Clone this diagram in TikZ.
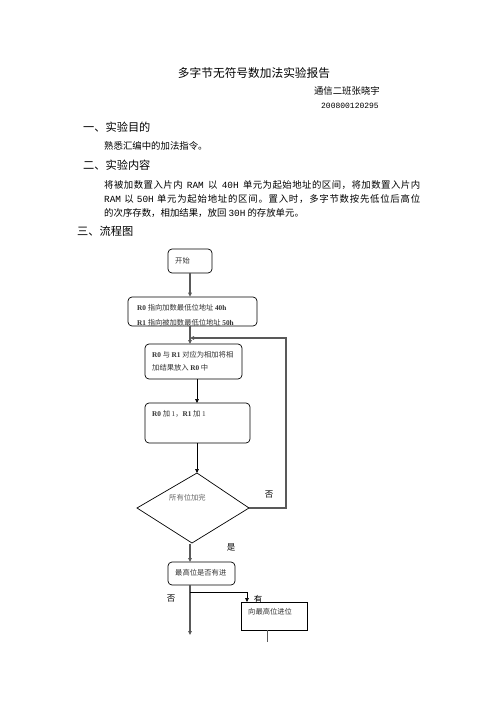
\documentclass[tikz,border=0pt]{standalone}
\usepackage{fontspec}
\setmainfont{Noto Sans CJK SC}
\newfontfamily\lat{Liberation Serif}
\newfontfamily\mono{Liberation Mono}
\newfontfamily\cjkwide[LetterSpace=5]{Noto Sans CJK SC}
\newfontfamily\cjkwider[LetterSpace=8]{Noto Sans CJK SC}
\usetikzlibrary{arrows.meta}
\begin{document}
\begin{tikzpicture}[x=1pt,y=-1pt,
  txt/.style={inner sep=0pt, anchor=west},
  head/.style={txt, font=\fontsize{11.2}{12}\selectfont},
  body/.style={txt, font=\fontsize{9.4}{11}\selectfont},
  ftxt/.style={txt, font=\fontsize{7.3}{9}\selectfont, text=black!80},
  rbox/.style={draw=black, line width=0.7pt, rounded corners=4pt, inner sep=0pt},
  sbox/.style={draw=black, line width=0.7pt, inner sep=0pt},
  tip/.style={-{Triangle[length=4pt,width=3.6pt]}},
  gline/.style={draw=black!65, line width=1.2pt},
  bline/.style={draw=black, line width=0.6pt}
]
\useasboundingbox (0,0) rectangle (496,702);
\fill[white] (0,0) rectangle (496,702);

% header texts
\node[inner sep=0pt, font=\fontsize{11.7}{13}\selectfont] (title) at (254,73) {多字节无符号数加法实验报告};
\node[inner sep=0pt, anchor=east, font=\fontsize{9.4}{11}\selectfont] (author) at (380,91) {通信二班张晓宇};
\node[inner sep=0pt, anchor=east, font=\mono\fontsize{8}{10}\selectfont] (sid) at (379,106) {200800120295};
\node[head] (h1) at (83,127) {一、实验目的};
\node[body] (b1) at (104,146) {熟悉汇编中的加法指令。};
\node[head] (h2) at (83,165) {二、实验内容};
\node[body, font=\cjkwide\fontsize{9.4}{11}\selectfont] (p1) at (104,185) {\makebox[316pt][s]{将被加数置入片内 {\mono RAM} 以 {\mono 40H} 单元为起始地址的区间，将加数置入片内}};
\node[body, font=\cjkwider\fontsize{9.4}{11}\selectfont] (p2) at (104,199) {\makebox[316pt][s]{{\mono RAM} 以 {\mono 50H} 单元为起始地址的区间。置入时，多字节数按先低位后高位}};
\node[body] (p3) at (104,213) {的次序存数，相加结果，放回 {\mono 30H} 的存放单元。};
\node[head] (h3) at (77,231) {三、流程图};

% flowchart boxes
\node[rbox, minimum width=44pt, minimum height=24pt] (start) at (190,261) {};
\node[ftxt] at (175,261) {开始};

\node[rbox, minimum width=129pt, minimum height=29pt] (b2) at (192.5,311.5) {};
\node[ftxt] at (137,308) {{\lat\bfseries R0} 指向加数最低位地址 {\lat\bfseries 40h}};
\begin{scope}
\clip (128,297) rectangle (257,325.5);
\node[ftxt] at (137,323) {{\lat\bfseries R1} 指向被加数最低位地址 {\lat\bfseries 50h}};
\end{scope}

\node[rbox, minimum width=97pt, minimum height=35pt] (b3) at (193.5,361.5) {};
\node[ftxt] at (152,355) {{\lat\bfseries R0} 与 {\lat\bfseries R1} 对应为相加将相};
\node[ftxt] at (152,368) {加结果放入 {\lat\bfseries R0} 中};

\node[rbox, minimum width=105pt, minimum height=40pt] (b4) at (197.5,423) {};
\node[ftxt] at (152,414) {{\lat\bfseries R0} 加 {\lat 1}，{\lat\bfseries R1} 加 {\lat 1}};

% diamond
\coordinate (dT) at (197,473);
\coordinate (dR) at (249,508);
\coordinate (dB) at (192,543);
\coordinate (dL) at (137,508);
\draw[line width=0.7pt] (dT) -- (dR) -- (dB) -- (dL) -- cycle;
\node[ftxt, text=black!60] (dtxt) at (169,498) {所有位加完};

\node[rbox, minimum width=67pt, minimum height=23pt] (b5) at (201.5,573.5) {};
\node[ftxt] at (175,573) {最高位是否有进};

\node[sbox, minimum width=66pt, minimum height=28pt] (b6) at (274,616) {};
\node[ftxt] at (248,612) {向最高位进位};

% labels
\node[inner sep=0pt, font=\fontsize{8.5}{10}\selectfont] (no1) at (269,495) {否};
\node[inner sep=0pt, font=\fontsize{8.5}{10}\selectfont] (yes1) at (231,547) {是};
\node[inner sep=0pt, font=\fontsize{8.5}{10}\selectfont] (no2) at (171,599) {否};
\node[inner sep=0pt, font=\fontsize{8.5}{10}\selectfont] (has) at (258,599) {有};

% connectors
\coordinate (loopR) at (286,338);
\coordinate (loopE) at (190,338);
\coordinate (br) at (190,592);
\coordinate (brR) at (247,592);
\coordinate (endA) at (190,635);
\coordinate (endB) at (267,642);

\draw[gline, tip] (start.south) -- (start.south |- b2.north);
\draw[gline, tip] (190,326) -- (190,344);
\draw[gline, tip] (dR) -- (286,508) -- (loopR) -- (loopE);
\draw[bline, tip] (197,379) -- (197,403);
\draw[bline, tip] (197,443) -- (dT);
\draw[gline, tip] (190,543.5) -- (190,562);
\draw[gline, tip] (190,585) -- (endA);
\draw[bline, tip] (br) -- (brR) -- (247,602);
\draw[draw=black!65, line width=0.8pt] (b6.south -| endB) -- (endB);
\end{tikzpicture}
\end{document}
